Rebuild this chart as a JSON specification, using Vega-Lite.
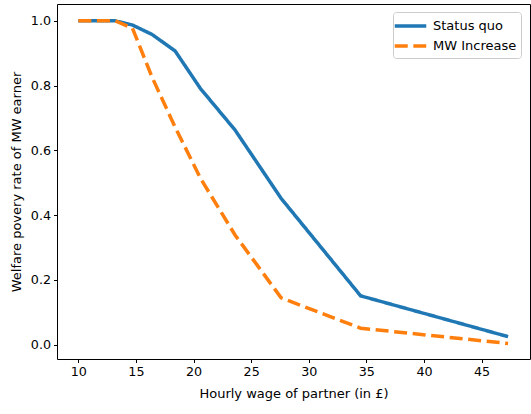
{
  "$schema": "https://vega.github.io/schema/vega-lite/v6.json",
  "width": 473,
  "height": 355,
  "autosize": "none",
  "padding": {"left": 57, "top": 4, "right": 1, "bottom": 55},
  "config": {
    "font": "DejaVu Sans",
    "view": {"stroke": "black", "strokeWidth": 1},
    "axis": {
      "grid": false,
      "domain": false,
      "tickColor": "black",
      "tickSize": 3.5,
      "tickWidth": 1,
      "labelFont": "DejaVu Sans",
      "labelFontSize": 12.7,
      "labelColor": "black",
      "labelPadding": 3,
      "titleFont": "DejaVu Sans",
      "titleFontSize": 13,
      "titleFontWeight": "normal",
      "titleColor": "black"
    },
    "legend": {
      "labelFont": "DejaVu Sans",
      "labelFontSize": 13,
      "labelColor": "black",
      "strokeColor": "#cccccc",
      "strokeWidth": 1
    }
  },
  "data": {
    "values": [
      {"wage": 10.0, "rate": 1.0, "series": "Status quo"},
      {"wage": 13.2, "rate": 1.0, "series": "Status quo"},
      {"wage": 14.7, "rate": 0.987, "series": "Status quo"},
      {"wage": 16.4, "rate": 0.958, "series": "Status quo"},
      {"wage": 18.4, "rate": 0.907, "series": "Status quo"},
      {"wage": 20.6, "rate": 0.791, "series": "Status quo"},
      {"wage": 23.6, "rate": 0.663, "series": "Status quo"},
      {"wage": 27.6, "rate": 0.452, "series": "Status quo"},
      {"wage": 34.5, "rate": 0.151, "series": "Status quo"},
      {"wage": 47.3, "rate": 0.025, "series": "Status quo"},
      {"wage": 10.0, "rate": 1.0, "series": "MW Increase"},
      {"wage": 13.2, "rate": 1.0, "series": "MW Increase"},
      {"wage": 14.7, "rate": 0.977, "series": "MW Increase"},
      {"wage": 16.4, "rate": 0.826, "series": "MW Increase"},
      {"wage": 18.4, "rate": 0.672, "series": "MW Increase"},
      {"wage": 20.6, "rate": 0.514, "series": "MW Increase"},
      {"wage": 23.6, "rate": 0.339, "series": "MW Increase"},
      {"wage": 27.6, "rate": 0.145, "series": "MW Increase"},
      {"wage": 34.5, "rate": 0.051, "series": "MW Increase"},
      {"wage": 47.3, "rate": 0.004, "series": "MW Increase"}
    ]
  },
  "mark": {"type": "line", "strokeWidth": 3.5, "clip": true},
  "encoding": {
    "x": {
      "field": "wage",
      "type": "quantitative",
      "scale": {"domain": [8.15, 49.2], "nice": false, "zero": false},
      "axis": {"values": [10, 15, 20, 25, 30, 35, 40, 45], "title": "Hourly wage of partner (in £)", "titlePadding": 9}
    },
    "y": {
      "field": "rate",
      "type": "quantitative",
      "scale": {"domain": [-0.044, 1.052], "nice": false, "zero": false},
      "axis": {"values": [0, 0.2, 0.4, 0.6, 0.8, 1.0], "format": ".1f", "title": "Welfare povery rate of MW earner", "titlePadding": 7}
    },
    "color": {
      "field": "series",
      "type": "nominal",
      "scale": {"domain": ["Status quo", "MW Increase"], "range": ["#1f77b4", "#ff7f0e"]},
      "legend": {
        "title": null,
        "orient": "none",
        "legendX": 336,
        "legendY": 8,
        "symbolType": "M-2.1,0H2.1",
        "symbolSize": 225,
        "symbolStrokeWidth": 3.5,
        "symbolOffset": 3.5,
        "padding": 4.5,
        "rowPadding": 3,
        "labelOffset": 13,
        "strokeColor": "#cccccc",
        "fillColor": "#ffffff",
        "cornerRadius": 3
      }
    },
    "strokeDash": {
      "field": "series",
      "type": "nominal",
      "scale": {"domain": ["Status quo", "MW Increase"], "range": [[1, 0], [13, 5.6]]},
      "legend": {
        "title": null,
        "orient": "none",
        "legendX": 336,
        "legendY": 8,
        "symbolType": "M-2.1,0H2.1",
        "symbolSize": 225,
        "symbolStrokeWidth": 3.5,
        "symbolOffset": 3.5,
        "padding": 4.5,
        "rowPadding": 3,
        "labelOffset": 13,
        "strokeColor": "#cccccc",
        "fillColor": "#ffffff",
        "cornerRadius": 3
      }
    }
  }
}
